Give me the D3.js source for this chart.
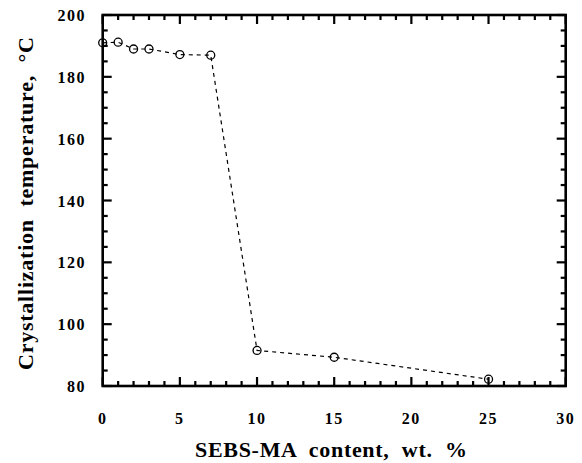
<!DOCTYPE html>
<html><head><meta charset="utf-8">
<script src="https://cdn.jsdelivr.net/npm/d3@7"></script>
<style>body{margin:0;background:#fff}</style>
</head><body>
<script>
const content = [0, 1, 2, 3, 5, 7, 10, 15, 25];
const crystTemp = [191, 191.2, 189, 189, 187.2, 187, 91.5, 89.3, 82.2];
const xTicks = [0, 5, 10, 15, 20, 25, 30];
const yTicks = [80, 100, 120, 140, 160, 180, 200];
const xTitle = "SEBS-MA  content,  wt.  %";
const yTitle = "Crystallization  temperature,  \u00B0C";

const W = 582, H = 463;
const L = 102.7, R = 565.7, T = 15, B = 386;
const svg = d3.select("body").append("svg").attr("width", W).attr("height", H);
const x = d3.scaleLinear().domain([0, 30]).range([L, R]);
const y = d3.scaleLinear().domain([80, 200]).range([B, T]);
const font = "'Liberation Serif', 'Times New Roman', serif";

// ticks (inward) on all four sides
const g = svg.append("g").attr("stroke", "#000").attr("stroke-width", 2.2);
d3.range(0, 31, 1).forEach(v => {
  const major = v % 5 === 0;
  const len = major ? 9 : 5;
  g.append("line").attr("x1", x(v)).attr("x2", x(v)).attr("y1", B).attr("y2", B - len);
  g.append("line").attr("x1", x(v)).attr("x2", x(v)).attr("y1", T).attr("y2", T + len);
});
d3.range(80, 201, 5).forEach(v => {
  const major = v % 20 === 0;
  const len = major ? 9 : 5;
  g.append("line").attr("y1", y(v)).attr("y2", y(v)).attr("x1", L).attr("x2", L + len);
  g.append("line").attr("y1", y(v)).attr("y2", y(v)).attr("x1", R).attr("x2", R - len);
});
// frame
svg.append("rect").attr("x", L).attr("y", T).attr("width", R - L).attr("height", B - T)
  .attr("fill", "none").attr("stroke", "#000").attr("stroke-width", 2.6);

// tick labels
svg.append("g").selectAll("text").data(xTicks).join("text")
  .attr("x", d => x(d)).attr("y", 424).attr("text-anchor", "middle")
  .attr("font-family", font).attr("font-weight", "bold").attr("font-size", 16)
  .attr("letter-spacing", 1.5)
  .text(d => d);
svg.append("g").selectAll("text").data(yTicks).join("text")
  .attr("x", 86).attr("y", d => y(d) + 6).attr("text-anchor", "end")
  .attr("font-family", font).attr("font-weight", "bold").attr("font-size", 16)
  .attr("letter-spacing", 1.5)
  .text(d => d);

// titles
svg.append("text").attr("x", 195).attr("y", 457)
  .attr("font-family", font).attr("font-weight", "bold").attr("font-size", 22)
  .attr("textLength", 272).attr("lengthAdjust", "spacing")
  .style("white-space", "pre")
  .text(xTitle);
svg.append("text").attr("transform", `translate(33,370) rotate(-90)`)
  .attr("font-family", font).attr("font-weight", "bold").attr("font-size", 22)
  .attr("textLength", 333).attr("lengthAdjust", "spacing")
  .style("white-space", "pre")
  .text(yTitle);

// data
const pts = content.map((c, i) => [c, crystTemp[i]]);
svg.append("path").datum(pts)
  .attr("d", d3.line().x(d => x(d[0])).y(d => y(d[1])))
  .attr("fill", "none").attr("stroke", "#000").attr("stroke-width", 1.2)
  .attr("stroke-dasharray", "4,4");
svg.append("g").selectAll("circle").data(pts).join("circle")
  .attr("cx", d => x(d[0])).attr("cy", d => y(d[1])).attr("r", 4)
  .attr("fill", "none").attr("stroke", "#000").attr("stroke-width", 1.3);
</script>
</body></html>
